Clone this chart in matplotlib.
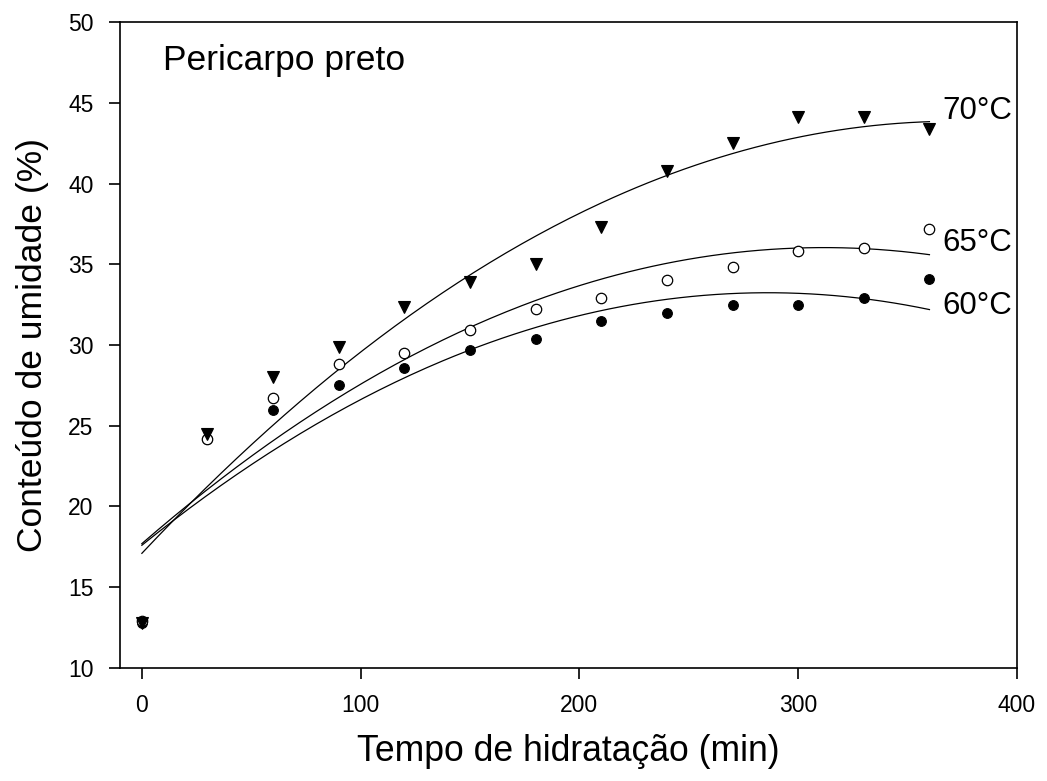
import matplotlib
matplotlib.use("Agg")
import matplotlib.pyplot as plt
import numpy as np

plt.rcParams['font.family'] = ['Liberation Sans', 'DejaVu Sans']

# hydration time (min)
tempo = np.array([0, 30, 60, 90, 120, 150, 180, 210, 240, 270, 300, 330, 360])

# moisture content (%) at each temperature
umid_60 = [12.8, 24.2, 26.0, 27.5, 28.6, 29.7, 30.4, 31.5, 32.0, 32.5, 32.5, 32.9, 34.1]
umid_65 = [12.9, 24.2, 26.7, 28.8, 29.5, 30.9, 32.2, 32.9, 34.0, 34.8, 35.8, 36.0, 37.2]
umid_70 = [12.8, 24.5, 28.0, 29.9, 32.35, 33.9, 35.0, 37.3, 40.8, 42.5, 44.1, 44.1, 43.4]

# quadratic regression coefficients (c, b, a) for y = a + b*t + c*t^2
coef_60 = [-1.910e-4, 0.1093, 17.6]
coef_65 = [-1.886e-4, 0.1176, 17.7]
coef_70 = [-1.9375e-4, 0.1440, 17.1]

fig = plt.figure(figsize=(10.47, 7.81), dpi=100)
ax = fig.add_axes([0.1146, 0.1447, 0.8567, 0.8271])

t = np.linspace(0, 360, 200)
for coef in (coef_60, coef_65, coef_70):
    ax.plot(t, np.polyval(coef, t), color='black', lw=0.9)

ax.plot(tempo, umid_60, 'o', color='black', ms=7, mew=0.8)
ax.plot(tempo, umid_65, 'o', mfc='white', mec='black', ms=7.5, mew=0.9)
ax.plot(tempo, umid_70, 'v', color='black', ms=9, mew=0.8)

ax.set_xlim(-10, 400)
ax.set_ylim(10, 50)
ax.set_xticks(np.arange(0, 401, 100))
ax.set_yticks(np.arange(10, 51, 5))
ax.tick_params(direction='out', length=8, width=1.2, labelsize=16.5, pad=11)
ax.tick_params(top=False, right=False)
for s in ax.spines.values():
    s.set_linewidth(1.2)

ax.set_xlabel('Tempo de hidratação (min)', fontsize=25.6, labelpad=12)
ax.set_ylabel('Conteúdo de umidade (%)', fontsize=25.5, labelpad=14)

ax.text(0.048, 0.94, 'Pericarpo preto', transform=ax.transAxes, fontsize=25.5,
        va='center', ha='left')
ax.text(366, 44.5, '70°C', fontsize=22.5, va='center')
ax.text(366, 36.3, '65°C', fontsize=22.5, va='center')
ax.text(366, 32.4, '60°C', fontsize=22.5, va='center')

fig.savefig('out.png', dpi=100)
